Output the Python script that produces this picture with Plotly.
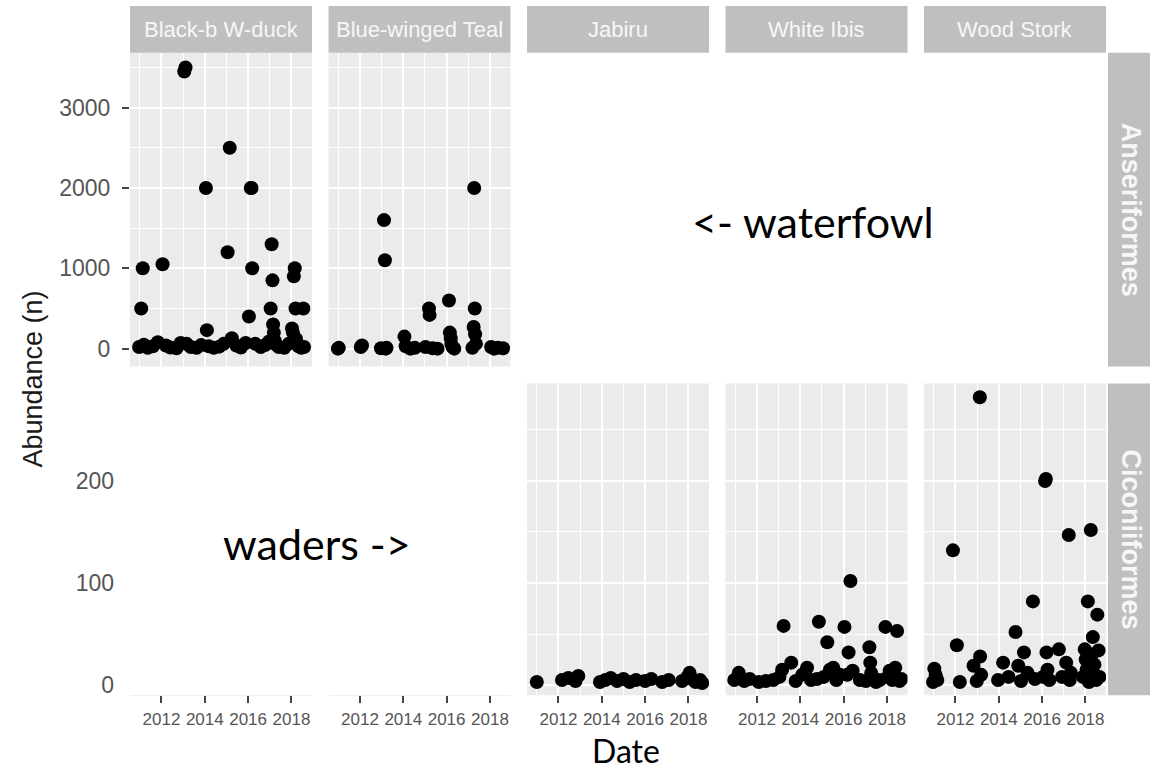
import plotly.graph_objects as go

# ---------------------------------------------------------------------------
# Survey counts per species (date of survey, abundance)
# ---------------------------------------------------------------------------
species = ["Black-b W-duck", "Blue-winged Teal", "Jabiru", "White Ibis", "Wood Stork"]
orders = ["Anseriformes", "Ciconiiformes"]

bbwd_dates = [
    "2010-12-20", "2011-01-25", "2011-02-20", "2011-03-10", "2011-05-15", "2011-08-10",
    "2011-11-01", "2012-01-20", "2012-03-15", "2012-06-01", "2012-09-10", "2012-11-20",
    "2013-01-20", "2013-02-10", "2013-03-01", "2013-05-10", "2013-08-15", "2013-11-01",
    "2014-01-20", "2014-02-05", "2014-03-10", "2014-06-01", "2014-09-01", "2014-11-15",
    "2015-01-20", "2015-02-25", "2015-04-01", "2015-06-15", "2015-09-01", "2015-11-20",
    "2016-01-15", "2016-02-15", "2016-02-28", "2016-03-10", "2016-05-01", "2016-08-01",
    "2016-10-15", "2016-12-20", "2017-01-15", "2017-02-01", "2017-02-15", "2017-02-25",
    "2017-03-10", "2017-03-25", "2017-04-15", "2017-06-01", "2017-09-01", "2017-11-15",
    "2018-01-10", "2018-01-25", "2018-02-10", "2018-02-25", "2018-03-10", "2018-03-20",
    "2018-04-10", "2018-05-01", "2018-06-15", "2018-07-20", "2018-08-01",
]
bbwd_n = [
    20, 500, 1000, 50, 10, 30,
    80, 1050, 40, 15, 5, 70,
    3450, 3500, 60, 20, 10, 45,
    2000, 230, 30, 10, 25, 60,
    1200, 2500, 130, 40, 15, 70,
    400, 2000, 2000, 1000, 60, 20,
    45, 90, 500, 1300, 850, 300,
    200, 100, 50, 20, 10, 60,
    250, 200, 900, 1000, 500, 120,
    60, 30, 10, 500, 20,
]

bwt_dates = [
    "2010-12-25", "2011-01-10", "2012-01-15", "2012-02-05", "2012-12-20", "2013-02-10",
    "2013-02-25", "2013-03-10", "2013-03-25", "2014-01-20", "2014-02-10", "2014-05-01",
    "2014-07-15", "2015-01-10", "2015-03-10", "2015-03-20", "2015-05-10", "2015-08-01",
    "2016-02-10", "2016-02-25", "2016-03-10", "2016-03-20", "2016-04-10", "2016-05-10",
    "2017-03-10", "2017-04-01", "2017-04-10", "2017-04-20", "2017-04-25", "2017-05-10",
    "2018-01-20", "2018-03-10", "2018-05-15", "2018-08-10",
]
bwt_n = [
    0, 10, 20, 40, 5, 1600,
    1100, 0, 10, 150, 30, 0,
    10, 20, 500, 420, 5, 0,
    600, 200, 130, 60, 20, 0,
    10, 270, 2000, 500, 180, 60,
    20, 0, 10, 5,
]

jabiru_dates = [
    "2011-01-01", "2012-03-01", "2012-06-15", "2012-10-15", "2012-12-01", "2013-12-01",
    "2014-03-01", "2014-06-01", "2014-09-15", "2015-01-01", "2015-04-15", "2015-08-01",
    "2016-01-01", "2016-04-15", "2016-10-15", "2017-02-01", "2017-09-15", "2017-12-15",
    "2018-01-20", "2018-03-01", "2018-05-01", "2018-07-15", "2018-08-20",
]
jabiru_n = [
    3, 5, 7, 4, 9, 3,
    5, 7, 4, 6, 3, 5,
    4, 6, 3, 5, 4, 8,
    12, 6, 3, 5, 2,
]

ibis_dates = [
    "2010-12-15", "2011-03-01", "2011-06-01", "2011-09-01", "2012-02-01", "2012-06-01",
    "2012-10-01", "2013-01-15", "2013-03-01", "2013-03-25", "2013-08-01", "2013-10-15",
    "2014-02-01", "2014-04-25", "2014-07-01", "2014-10-10", "2014-11-10", "2015-02-01",
    "2015-04-01", "2015-05-15", "2015-07-10", "2015-09-01", "2015-11-01", "2016-01-15",
    "2016-03-01", "2016-03-25", "2016-04-25", "2016-06-01", "2016-10-01", "2017-01-10",
    "2017-03-10", "2017-03-25", "2017-04-10", "2017-05-01", "2017-07-01", "2017-09-01",
    "2017-12-05", "2018-01-15", "2018-02-15", "2018-04-01", "2018-05-20", "2018-06-20",
    "2018-08-01", "2018-09-01",
]
ibis_n = [
    5, 12, 4, 6, 3, 4,
    5, 8, 15, 58, 22, 4,
    10, 17, 5, 6, 62, 8,
    42, 15, 17, 5, 10, 57,
    10, 32, 102, 14, 5, 4,
    37, 22, 12, 6, 3, 5,
    57, 8, 14, 5, 17, 53,
    4, 6,
]

stork_dates = [
    "2010-12-20", "2011-01-10", "2011-02-01", "2011-03-01", "2011-11-20", "2012-01-25",
    "2012-03-15", "2012-11-01", "2012-12-25", "2013-02-15", "2013-02-20", "2013-03-10",
    "2013-12-20", "2014-03-15", "2014-06-15", "2014-10-10", "2014-11-25", "2015-01-10",
    "2015-03-01", "2015-05-01", "2015-07-30", "2015-09-01", "2016-01-15", "2016-02-20",
    "2016-03-05", "2016-03-15", "2016-04-01", "2016-05-01", "2016-10-10", "2016-12-01",
    "2017-02-10", "2017-03-25", "2017-04-10", "2017-05-01", "2017-11-20", "2017-12-20",
    "2018-01-05", "2018-01-20", "2018-02-10", "2018-03-01", "2018-04-01", "2018-04-20",
    "2018-05-05", "2018-05-15", "2018-06-01", "2018-07-01", "2018-07-20", "2018-08-10",
    "2018-08-25",
]
stork_n = [
    3, 16, 10, 5, 132, 39,
    3, 19, 4, 282, 28, 10,
    5, 22, 8, 52, 19, 4,
    32, 12, 82, 6, 8, 200,
    202, 32, 15, 5, 35, 8,
    22, 147, 5, 12, 8, 35,
    25, 15, 82, 3, 152, 30,
    47, 10, 20, 5, 69, 34,
    8,
]

year_ticks = ["2012-01-01", "2014-01-01", "2016-01-01", "2018-01-01"]
year_labels = ["2012", "2014", "2016", "2018"]
year_minor = ["2011-01-01", "2013-01-01", "2015-01-01", "2017-01-01", "2019-01-01"]

top_ticks = [0, 1000, 2000, 3000]
top_minor = [500, 1500, 2500, 3500]
bottom_ticks = [0, 100, 200]
bottom_minor = [50, 150, 250]

# ---------------------------------------------------------------------------
# Facet geometry (pixels in a 1150 x 772 canvas)
# ---------------------------------------------------------------------------
W, H = 1150, 772
cols_px = [(130, 312), (328.5, 510.5), (527, 709), (725.5, 907.5), (924, 1106)]
rows_px = [(53, 368), (385, 698)]
x_range = ["2010-07-20", "2018-12-13"]
top_range = [-223, 3682]
bottom_range = [-10, 295.5]

PANEL_BG = "#ebebeb"
STRIP_BG = "#bfbfbf"
TICK_TXT = "#555555"
TICK_COL = "#444444"
SANS = "Liberation Sans, Arial, sans-serif"
HAND = "Lato, Carlito, sans-serif"


def fx(px):
    return px / W


def fy(py):
    return 1 - py / H


def ax_ref(n, letter):
    return letter if n == 1 else f"{letter}{n}"


fig = go.Figure()

# (species index, axis number, dates, counts)
panels = [
    (0, 1, bbwd_dates, bbwd_n),
    (1, 2, bwt_dates, bwt_n),
    (2, 5, jabiru_dates, jabiru_n),
    (3, 6, ibis_dates, ibis_n),
    (4, 7, stork_dates, stork_n),
]
for ci, ax, dates, counts in panels:
    fig.add_trace(go.Scatter(
        x=dates, y=counts, mode="markers",
        xaxis=ax_ref(ax, "x"), yaxis=ax_ref(ax, "y"),
        marker=dict(color="black", size=14, line=dict(width=0)),
        showlegend=False, name=species[ci],
        hovertemplate="%{x|%Y-%m-%d}: %{y}<extra>" + species[ci] + "</extra>",
    ))

# the two empty Ciconiiformes cells still carry their date axis (and the y axis)
for ax in (3, 4):
    fig.add_trace(go.Scatter(
        x=[None], y=[None], mode="markers",
        xaxis=ax_ref(ax, "x"), yaxis=ax_ref(ax, "y"),
        showlegend=False, hoverinfo="skip",
    ))

# axis number -> (column, row)
axis_cells = {1: (0, 0), 2: (1, 0), 3: (0, 1), 4: (1, 1), 5: (2, 1), 6: (3, 1), 7: (4, 1)}
drawn = {1, 2, 5, 6, 7}

layout_axes = {}
for ax, (c, r) in axis_cells.items():
    x0, x1 = cols_px[c]
    y0, y1 = rows_px[r]
    xa = dict(
        domain=[fx(x0), fx(x1)], anchor=ax_ref(ax, "y"),
        type="date", range=x_range, fixedrange=True, autorange=False,
        tickmode="array", tickvals=year_ticks, ticktext=year_labels,
        zeroline=False, showline=False,
        showgrid=ax in drawn, gridcolor="white", gridwidth=2.2,
        minor=dict(tickmode="array", tickvals=year_minor, showgrid=ax in drawn,
                   gridcolor="white", gridwidth=1.1, ticks=""),
        tickfont=dict(family=SANS, size=17, color=TICK_TXT),
    )
    if r == 1:
        xa.update(ticks="outside", ticklen=7, tickwidth=2, tickcolor=TICK_COL,
                  showticklabels=True, ticklabelstandoff=1)
        if ax not in drawn:
            xa.update(showline=True, linecolor="#f0f0f0", linewidth=1)
    else:
        xa.update(ticks="", showticklabels=False)

    rng = top_range if r == 0 else bottom_range
    major = top_ticks if r == 0 else bottom_ticks
    minor = top_minor if r == 0 else bottom_minor
    ya = dict(
        domain=[fy(y1), fy(y0)], anchor=ax_ref(ax, "x"),
        range=rng, fixedrange=True, autorange=False, zeroline=False, showline=False,
        tickmode="array", tickvals=major,
        showgrid=ax in drawn, gridcolor="white", gridwidth=2.2,
        minor=dict(tickmode="array", tickvals=minor, showgrid=ax in drawn,
                   gridcolor="white", gridwidth=1.1, ticks=""),
        tickfont=dict(family=SANS, size=23, color=TICK_TXT),
    )
    if c == 0 and r == 0:
        ya.update(ticks="outside", ticklen=7, tickwidth=2, tickcolor=TICK_COL,
                  showticklabels=True, ticklabelstandoff=7)
    elif c == 0:
        # lower-left cell is blank: labels only, no tick marks
        ya.update(ticks="", showticklabels=True, ticklabelstandoff=15)
    else:
        ya.update(ticks="", showticklabels=False)
    layout_axes["xaxis" if ax == 1 else f"xaxis{ax}"] = xa
    layout_axes["yaxis" if ax == 1 else f"yaxis{ax}"] = ya

shapes = []
# grey panel backgrounds for the populated facets
for ax in sorted(drawn):
    shapes.append(dict(type="rect", xref=f"{ax_ref(ax, 'x')} domain",
                       yref=f"{ax_ref(ax, 'y')} domain",
                       x0=0, x1=1, y0=0, y1=1, fillcolor=PANEL_BG,
                       line=dict(width=0), layer="below"))

annotations = []
# column strips (species)
for (x0, x1), name in zip(cols_px, species):
    shapes.append(dict(type="rect", xref="paper", yref="paper",
                       x0=fx(x0), x1=fx(x1), y0=fy(53), y1=fy(6),
                       fillcolor=STRIP_BG, line=dict(width=0), layer="above"))
    annotations.append(dict(xref="paper", yref="paper", x=fx((x0 + x1) / 2), y=fy(30),
                            text=name, showarrow=False, xanchor="center", yanchor="middle",
                            font=dict(family=SANS, size=22, color="#f7f7f7")))

# row strips (orders)
for (y0, y1), name in zip(rows_px, orders):
    shapes.append(dict(type="rect", xref="paper", yref="paper",
                       x0=fx(1108), x1=fx(1156), y0=fy(y1), y1=fy(y0),
                       fillcolor=STRIP_BG, line=dict(width=0), layer="above"))
    annotations.append(dict(xref="paper", yref="paper", x=fx(1131), y=fy((y0 + y1) / 2),
                            text=f"<b>{name}</b>", showarrow=False, textangle=90,
                            xanchor="center", yanchor="middle",
                            font=dict(family=SANS, size=27, color="#f7f7f7")))

# axis titles and notes
annotations += [
    dict(xref="paper", yref="paper", x=fx(33), y=fy(381), text="Abundance (n)",
         showarrow=False, textangle=-90, xanchor="center", yanchor="middle",
         font=dict(family=SANS, size=27, color="#1a1a1a")),
    dict(xref="paper", yref="paper", x=fx(626), y=fy(753), text="Date",
         showarrow=False, xanchor="center", yanchor="middle",
         font=dict(family=HAND, size=32, color="black")),
    dict(xref="paper", yref="paper", x=fx(813), y=fy(222), text="&lt;- waterfowl",
         showarrow=False, xanchor="center", yanchor="middle",
         font=dict(family=HAND, size=43, color="black")),
    dict(xref="paper", yref="paper", x=fx(317), y=fy(546), text="waders -&gt;",
         showarrow=False, xanchor="center", yanchor="middle",
         font=dict(family=HAND, size=43, color="black")),
]

fig.update_layout(
    width=W, height=H, margin=dict(l=0, r=0, t=0, b=0, pad=0),
    paper_bgcolor="white", plot_bgcolor="white",
    shapes=shapes, annotations=annotations, showlegend=False,
    **layout_axes,
)

fig.write_html("out.html")
